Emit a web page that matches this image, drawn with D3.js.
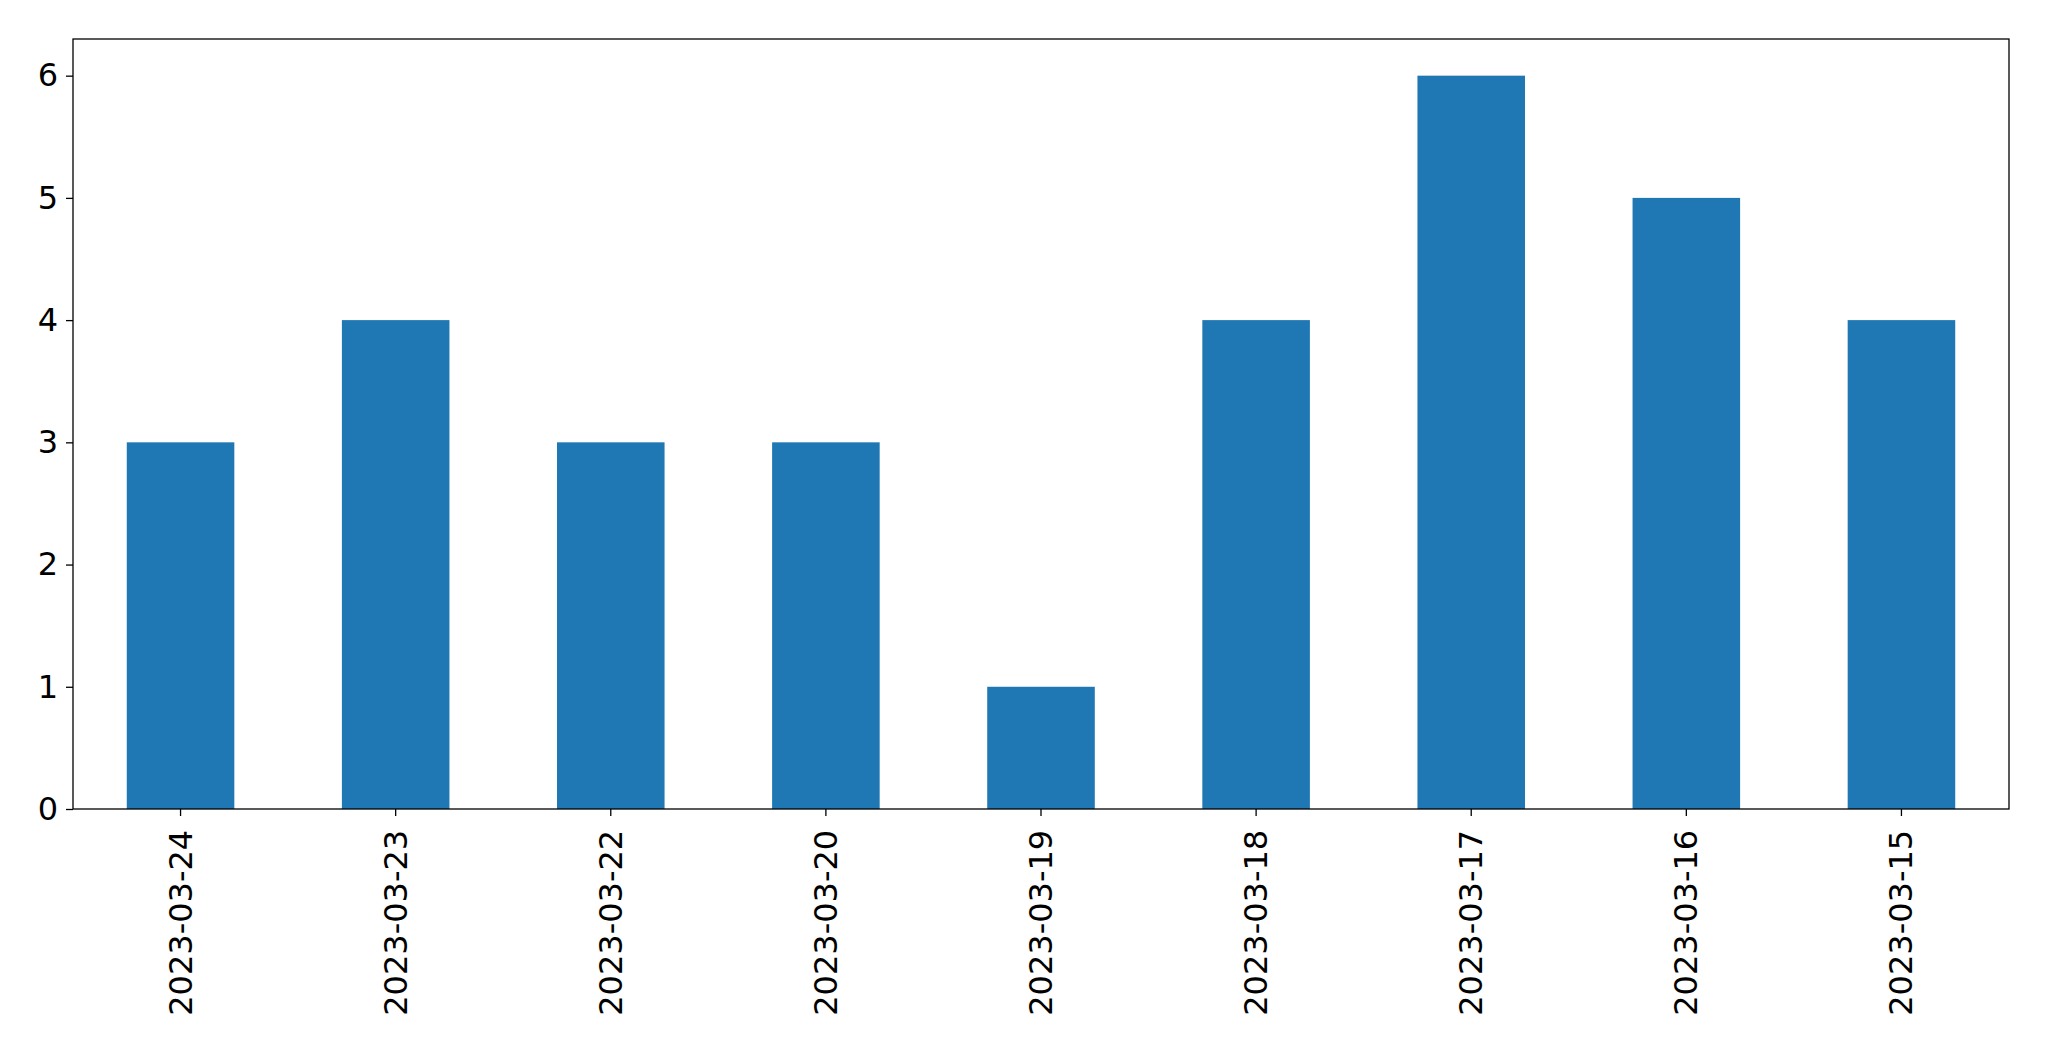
<!DOCTYPE html>
<html><head><meta charset="utf-8">
<script src="https://cdn.jsdelivr.net/npm/d3@7"></script>
<style>body{margin:0;background:#fff}svg{display:block}</style>
</head><body>
<script>
const categories = ["2023-03-24","2023-03-23","2023-03-22","2023-03-20","2023-03-19","2023-03-18","2023-03-17","2023-03-16","2023-03-15"];
const values = [3,4,3,3,1,4,6,5,4];
const yTicks = [0,1,2,3,4,5,6];

const W=2049,H=1061,m={l:73,r:40,t:39,b:252};
const svg=d3.select("body").append("svg").attr("width",W).attr("height",H);
const x=d3.scaleBand().domain(categories).range([m.l,W-m.r]).paddingInner(0.5).paddingOuter(0.25);
const y=d3.scaleLinear().domain([0,6.3]).range([H-m.b,m.t]);
svg.selectAll("rect.bar").data(values).join("rect").attr("class","bar")
  .attr("x",(d,i)=>x(categories[i])).attr("width",x.bandwidth())
  .attr("y",d=>y(d)).attr("height",d=>y(0)-y(d)).attr("fill","#1f77b4");
const font="'DejaVu Sans', sans-serif";
const ya=svg.append("g").attr("transform",`translate(${m.l},0)`).call(d3.axisLeft(y).tickValues(yTicks).tickSize(7).tickPadding(8).tickFormat(d3.format("d")));
const xa=svg.append("g").attr("transform",`translate(0,${H-m.b})`).call(d3.axisBottom(x).tickSize(7).tickPadding(8));
[ya,xa].forEach(a=>{a.select(".domain").remove();a.selectAll("line").attr("stroke","#000").attr("stroke-width",1.3);a.selectAll("text").attr("font-family",font).attr("font-size",32).attr("fill","#000");});
xa.selectAll("text").attr("transform","rotate(-90)").attr("text-anchor","end").attr("dx","-0.4em").attr("dy","-0.2em").attr("y",0).attr("x",-8);
xa.selectAll("text").attr("dominant-baseline","central").attr("dy",null);
svg.append("rect").attr("x",m.l).attr("y",m.t).attr("width",W-m.r-m.l).attr("height",H-m.b-m.t).attr("fill","none").attr("stroke","#000").attr("stroke-width",1.3);
</script></body></html>
